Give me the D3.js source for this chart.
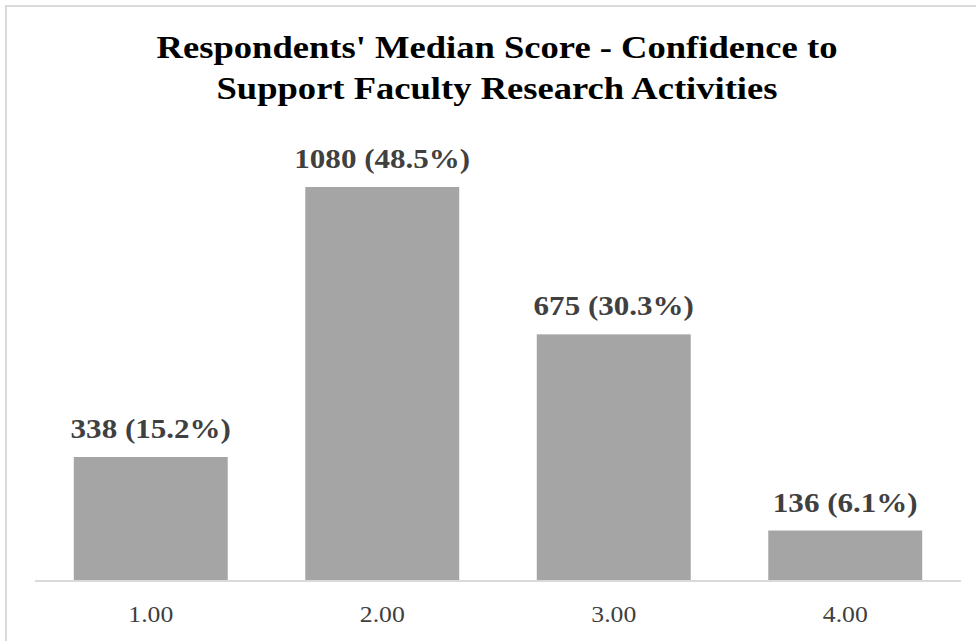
<!DOCTYPE html>
<head>
  <meta charset="utf-8">
  <script src="https://d3js.org/d3.v7.min.js"></script>
  <style>
    body { margin: 0; background: #fff; }
    text { font-family: "Liberation Serif", "Times New Roman", serif; }
  </style>
</head>
<body>
<script>
  // data
  var categories = ["1.00", "2.00", "3.00", "4.00"];
  var counts = [338, 1080, 675, 136];
  var percents = ["15.2%", "48.5%", "30.3%", "6.1%"];
  var titleLines = ["Respondents' Median Score - Confidence to", "Support Faculty Research Activities"];

  var width = 976, height = 641;
  var plot = {left: 35, right: 961, top: 187, bottom: 580};

  var svg = d3.select("body").append("svg")
      .attr("width", width)
      .attr("height", height);

  // chart frame (right and bottom edges run off the picture)
  svg.append("rect")
      .attr("x", 6).attr("y", 6)
      .attr("width", 990).attr("height", 660)
      .attr("fill", "#fff")
      .attr("stroke", "#d9d9d9")
      .attr("stroke-width", 2);

  var x = d3.scaleBand()
      .domain(categories)
      .range([plot.left, plot.right])
      .paddingInner(0.335)
      .paddingOuter(0.1675);

  var y = d3.scaleLinear()
      .domain([0, 1080])
      .range([plot.bottom, plot.top]);

  var data = categories.map(function(c, i) {
    return {cat: c, n: counts[i], pct: percents[i]};
  });

  // the source picture is a bit stretched sideways, so text gets scaleX
  function place(cx, cy, sx) {
    return "translate(" + cx + "," + cy + ") scale(" + sx + ",1)";
  }

  svg.selectAll(".bar")
    .data(data)
    .enter().append("rect")
      .attr("class", "bar")
      .attr("x", function(d) { return x(d.cat); })
      .attr("y", function(d) { return y(d.n); })
      .attr("width", x.bandwidth())
      .attr("height", function(d) { return y(0) - y(d.n); })
      .attr("fill", "#a5a5a5");

  // baseline
  svg.append("line")
      .attr("x1", plot.left).attr("x2", plot.right)
      .attr("y1", y(0) + 1).attr("y2", y(0) + 1)
      .attr("stroke", "#d9d9d9")
      .attr("stroke-width", 2);

  // x labels
  svg.selectAll(".tick-label")
    .data(categories)
    .enter().append("text")
      .attr("class", "tick-label")
      .attr("transform", function(d) { return place(x(d) + x.bandwidth() / 2, 622, 1.07); })
      .attr("text-anchor", "middle")
      .attr("fill", "#404040")
      .style("font-size", "24px")
      .text(function(d) { return d; });

  // value labels
  svg.selectAll(".val")
    .data(data)
    .enter().append("text")
      .attr("class", "val")
      .attr("transform", function(d) { return place(x(d.cat) + x.bandwidth() / 2, y(d.n) - 19, 1.15); })
      .attr("text-anchor", "middle")
      .attr("fill", "#404040")
      .style("font-size", "27px")
      .style("font-weight", "bold")
      .text(function(d) { return d.n + " (" + d.pct + ")"; });

  // title
  svg.selectAll(".title")
    .data(titleLines)
    .enter().append("text")
      .attr("class", "title")
      .attr("transform", function(d, i) { return place(497, 58 + i * 40.5, 1.18); })
      .attr("text-anchor", "middle")
      .attr("fill", "#000")
      .style("font-size", "31px")
      .style("font-weight", "bold")
      .text(function(d) { return d; });
</script>
</body>
